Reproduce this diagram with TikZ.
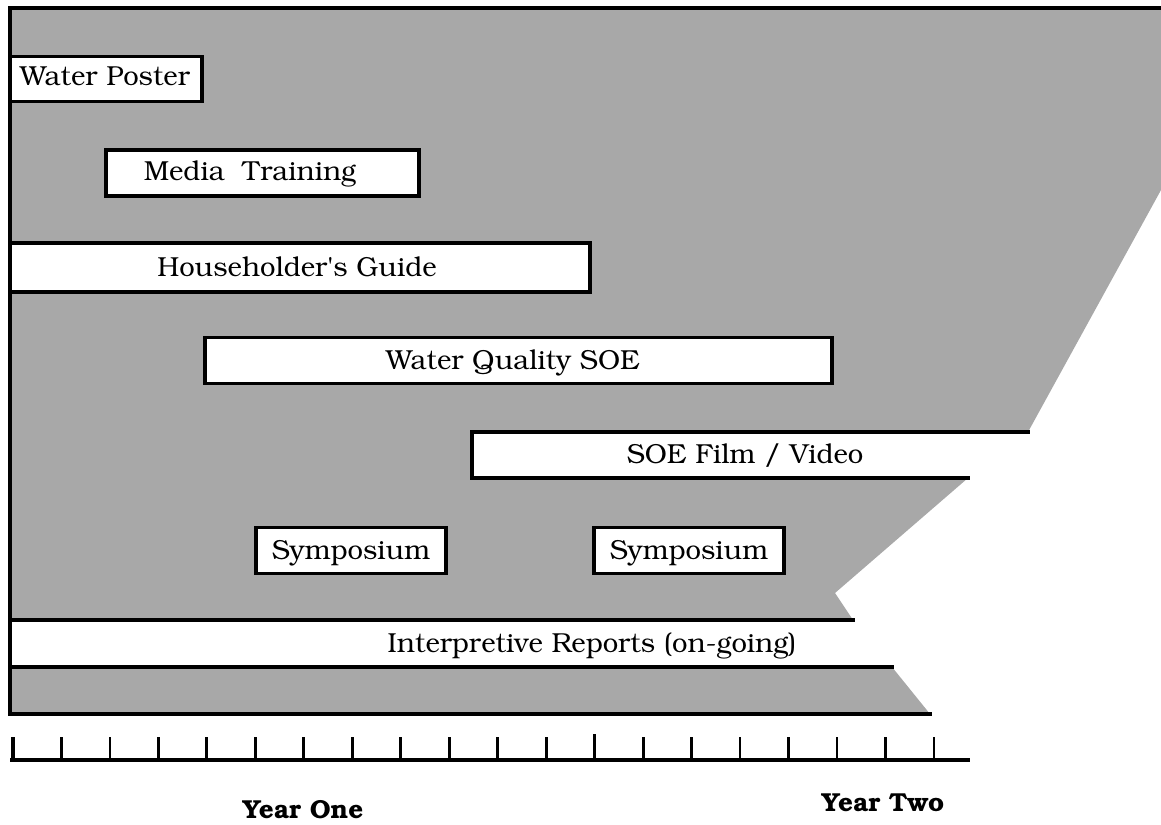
\documentclass[tikz,border=0pt]{standalone}
\usepackage[T1]{fontenc}
\usepackage{bookman}
\usetikzlibrary{calc}
\begin{document}
\begin{tikzpicture}[x=1pt,y=-1pt,
  shade/.style={fill=black!34, draw=none},
  edge/.style={line width=3.2pt, line cap=rect},
  box/.style={draw, line width=3.2pt, fill=white, inner sep=0pt, minimum width=#1},
  boxh/.style={minimum height=46pt},
  lbl/.style={font=\fontsize{27.5}{28}\selectfont, inner sep=0pt, anchor=base},
  yr/.style={font=\bfseries\fontsize{26}{26}\selectfont, inner sep=0pt, anchor=base},
  tick/.style={line width=2.8pt}]
\useasboundingbox (0,0) rectangle (1161,824);
% main shaded area
\coordinate (tl) at (10,8);
\coordinate (tr) at (1161,8);
\coordinate (rr) at (1161,190);
\coordinate (fa) at (1028,432);
\coordinate (fl) at (472,432);
\coordinate (fbl) at (472,478);
\coordinate (fb) at (968,478);
\coordinate (nk) at (835,593);
\coordinate (ir) at (853,620);
\coordinate (il) at (10,620);
\fill[shade] (tl) -- (tr) -- (rr) -- (fa) -- (fl) -- (fbl) -- (fb) -- (nk) -- (ir) -- (il) -- cycle;
% lower strip
\coordinate (sl) at (10,667);
\coordinate (sr) at (892,667);
\coordinate (sbr) at (930,714);
\coordinate (sbl) at (10,714);
\fill[shade] (sl) -- (sr) -- (sbr) -- (sbl) -- cycle;
% outer edges
\draw[edge] (tr) -- (tl) -- (sbl) -- (sbr);
\draw[edge] (il) -- (ir);
\draw[edge] (sl) -- (sr);
% SOE film bar (open at right)
\fill[white] (fl) -- (fa) -- (1161,432) -- (1161,478) -- (fbl) -- cycle;
\draw[edge] (fa) -- (fl) -- (fbl) -- (fb);
% boxes
\node[box=192pt, minimum height=45pt] (wp) at (106,79) {};
\node[lbl] (wpt) at (105,86) {Water Poster};
\node[box=313pt, boxh] (mt) at (262.5,173) {};
\node[lbl] (mtt) at (250,180) {Media\ \ Training};
\node[box=580pt, minimum height=49pt] (hg) at (300,267.5) {};
\node[lbl] (hgt) at (297,276) {Householder\textquotesingle s Guide};
\node[box=627pt, boxh] (wq) at (518.5,360.5) {};
\node[lbl] (wqt) at (513,369) {Water Quality SOE};
\node[lbl] (sf) at (745,463) {SOE Film / Video};
\node[box=190pt, boxh] (s1) at (351,550.5) {};
\node[lbl] (s1t) at (351,559) {Symposium};
\node[box=190pt, boxh] (s2) at (689,550.5) {};
\node[lbl] (s2t) at (689,559) {Symposium};
\node[lbl] (irt) at (592,652) {Interpretive Reports (on-going)};
% time axis
\coordinate (a0) at (10,760);
\coordinate (a1) at (970,760);
\draw[line width=4.5pt] (a0) -- (a1);
\foreach \i in {0,...,19}{
  \pgfmathsetmacro{\tx}{13+\i*48.47}
  \coordinate (t\i) at (\tx,760);
  \coordinate (u\i) at (\tx,737);
  \draw[tick] (t\i) -- (u\i);
}
\draw[line width=4.5pt] (t0) -- (u0);
\draw[line width=3.2pt] (t12) -- ($(u12)+(0,-3)$);
\node[yr] (y1) at (303,818) {Year One};
\node[yr] (y2) at (883,811) {Year Two};
\end{tikzpicture}
\end{document}
